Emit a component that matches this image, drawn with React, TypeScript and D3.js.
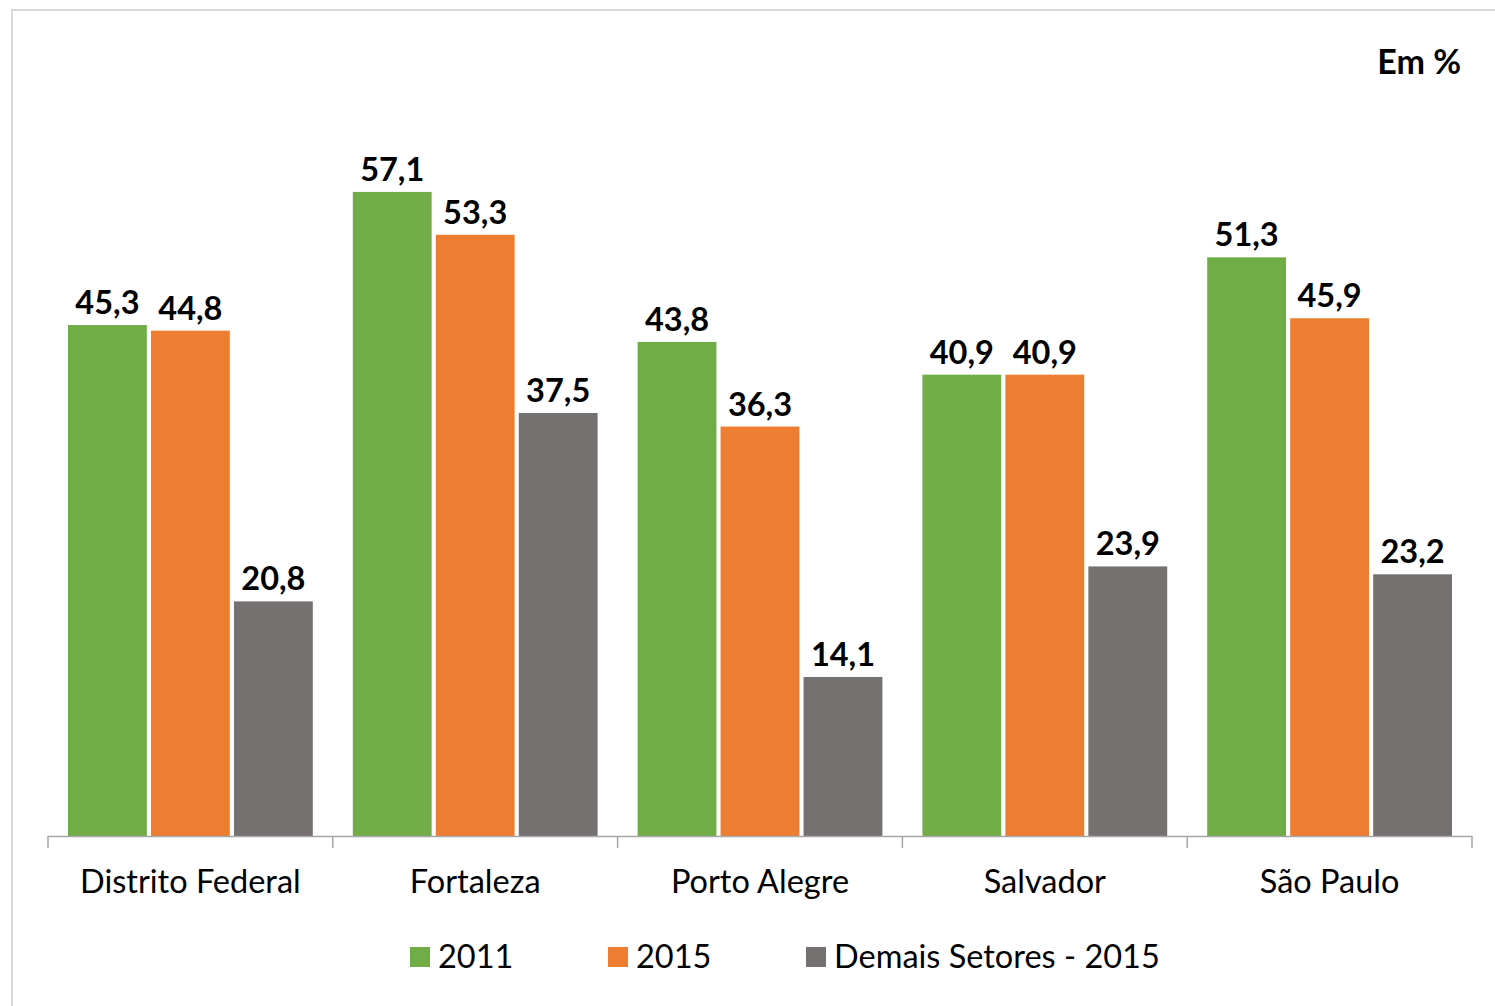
import React from "react";
import * as d3 from "d3";

const categories = ["Distrito Federal", "Fortaleza", "Porto Alegre", "Salvador", "São Paulo"];
const seriesNames = ["2011", "2015", "Demais Setores - 2015"];
const values2011 = [45.3, 57.1, 43.8, 40.9, 51.3];
const values2015 = [44.8, 53.3, 36.3, 40.9, 45.9];
const valuesDemais = [20.8, 37.5, 14.1, 23.9, 23.2];
const colors = ["#70ad47", "#ed7d31", "#767171"];

const W = 1495;
const H = 1006;
const FONT = "Lato, 'Open Sans', sans-serif";

export default function App() {
  const seriesValues = [values2011, values2015, valuesDemais];
  const x = d3.scaleBand<string>().domain(categories).range([48, 1472]).padding(0);
  const inner = d3
    .scaleBand<string>()
    .domain(seriesNames)
    .range([20, x.bandwidth() - 20])
    .paddingInner(0.05)
    .paddingOuter(0);
  const y = d3.scaleLinear().domain([0, 60]).range([836, 836 - 60 * 11.28]);
  const fmt = (v: number) => v.toFixed(1).replace(".", ",");
  const ticks = [...categories.map((c) => x(c)!), 1472];

  const legendX = [410, 608, 806];

  return (
    <svg width={W} height={H} style={{ position: "absolute", left: 0, top: 0, background: "#fff" }} fontFamily={FONT}>
      <rect x={12} y={10} width={1600} height={1100} fill="#fff" stroke="#d9d9d9" strokeWidth={2} />
      <text x={1461} y={74} textAnchor="end" fontSize={34} fontWeight="bold" fill="#000">Em %</text>
      {seriesNames.map((s, si) =>
        categories.map((c, ci) => {
          const v = seriesValues[si][ci];
          const bx = x(c)! + inner(s)!;
          return (
            <g key={s + c}>
              <rect x={bx} y={y(v)} width={inner.bandwidth()} height={y(0) - y(v)} fill={colors[si]} />
              <text x={bx + inner.bandwidth() / 2} y={y(v) - 11} textAnchor="middle" fontSize={32.5} fontWeight="bold" fill="#000">{fmt(v)}</text>
            </g>
          );
        })
      )}
      <line x1={48} x2={1472} y1={836.5} y2={836.5} stroke="#a6a6a6" strokeWidth={1.5} />
      {ticks.map((t, i) => (
        <line key={i} x1={t} x2={t} y1={836} y2={848} stroke="#a6a6a6" strokeWidth={1.5} />
      ))}
      {categories.map((c) => (
        <text key={c} x={x(c)! + x.bandwidth() / 2} y={893} textAnchor="middle" fontSize={32.5} fill="#000">{c}</text>
      ))}
      {seriesNames.map((s, i) => (
        <g key={s}>
          <rect x={legendX[i]} y={947} width={20} height={20} fill={colors[i]} />
          <text x={legendX[i] + 28} y={968} fontSize={32.5} fill="#000">{s}</text>
        </g>
      ))}
    </svg>
  );
}
